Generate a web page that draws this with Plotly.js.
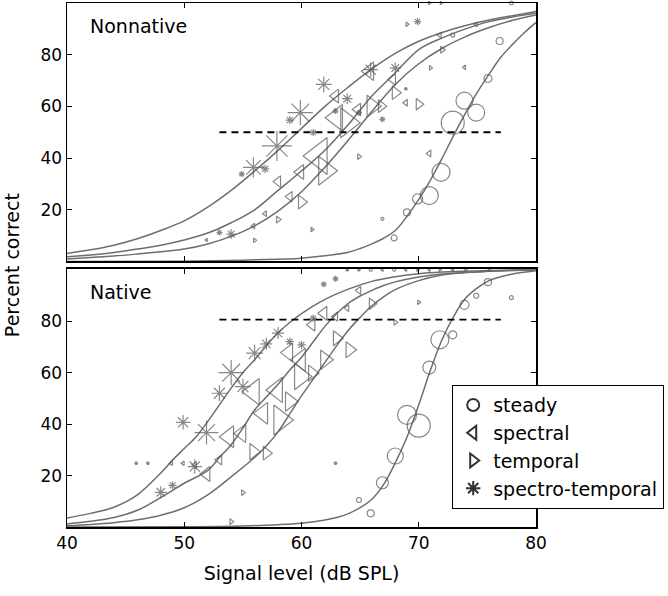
<!DOCTYPE html>
<html><head><meta charset="utf-8">
<script src="https://cdn.plot.ly/plotly-3.0.1.min.js"></script>
<style>html,body{margin:0;padding:0;background:#fff}#chart{width:668px;height:596px}</style>
</head><body><div id="chart"></div><script>
// ---------- Nonnative (top panel) data ----------
const nnSteadyX = [66.9, 67.9, 69.0, 69.9, 70.9, 71.9, 72.9, 73.9, 74.9, 75.9, 76.9, 77.9, 72.9];
const nnSteadyY = [16.5, 9.1, 19.0, 24.2, 25.5, 34.5, 53.7, 62.2, 57.6, 70.8, 85.3, 100, 87.6];
const nnSteadyS = [3, 6, 7, 10, 18, 18, 23, 17, 17, 8, 7, 4, 4];

const nnSpectralX = [51.9, 55.9, 56.9, 58.0, 59.0, 59.9, 61.5, 63.0, 62.9, 64.8, 65.8, 67.8, 68.9, 70.9, 71.8, 73.9, 74.9];
const nnSpectralY = [8.3, 13.7, 18.5, 30.9, 25.1, 34.6, 40.8, 55.6, 64.0, 58.8, 73.6, 70.4, 61.4, 41.8, 87.6, 75.1, 91.7];
const nnSpectralS = [3, 5, 5, 10, 9, 13, 32, 23, 12, 11, 16, 10, 6, 6, 5, 4, 4];

const nnTemporalX = [56.0, 58.0, 60.0, 60.9, 62.0, 63.9, 64.9, 66.0, 66.8, 68.0, 70.0, 72.0, 69.0, 71.0, 70.9, 71.9];
const nnTemporalY = [8.2, 16.2, 23.0, 12.4, 35.1, 53.7, 40.6, 60.1, 60.1, 65.3, 60.8, 81.9, 91.8, 74.9, 100, 100];
const nnTemporalS = [4, 6, 12, 4, 25, 26, 5, 19, 11, 12, 10, 6, 4, 4, 3, 3];

const nnSTX = [53.0, 54.0, 54.9, 55.9, 56.9, 57.9, 59.0, 59.9, 61.0, 61.9, 62.9, 63.9, 64.9, 65.9, 66.9, 68.0, 68.9, 69.9];
const nnSTY = [11.2, 10.6, 33.8, 36.4, 35.8, 44.7, 54.7, 57.6, 49.9, 68.5, 58.2, 63.0, 57.6, 74.2, 55.0, 74.9, 66.8, 92.8];
const nnSTS = [5, 8, 5, 17, 7, 25, 7, 21, 6, 13, 5, 9, 5, 12, 5, 9, 3, 6];

// fitted curves
const nnCurveSTX = [40, 42, 44, 46, 48, 50, 52, 54, 56, 58, 60, 62, 64, 66, 68, 70, 72, 74, 76, 78, 80];
const nnCurveSTY = [3.1, 4.5, 6.3, 8.8, 12, 15.7, 21, 27.5, 35, 43, 51.5, 60, 67.5, 74.5, 80.5, 85.2, 88.6, 91.3, 93.4, 95.1, 96.7];
const nnCurveSpX = [40, 42, 44, 46, 48, 50, 52, 54, 56, 58, 60, 62, 64, 66, 68, 70, 72, 74, 76, 78, 80];
const nnCurveSpY = [1.8, 2.5, 3.5, 4.8, 6.3, 8.3, 11, 15, 20, 27.5, 35, 43, 53, 64, 73, 82, 86.5, 90, 92.8, 94.6, 96];
const nnCurveTeX = [40, 42, 44, 46, 48, 50, 52, 54, 56, 58, 60, 62, 64, 66, 68, 70, 72, 74, 76, 78, 80];
const nnCurveTeY = [1, 1.5, 2.1, 2.9, 3.8, 4.8, 6.8, 9.7, 13.8, 19.5, 27, 36.5, 47, 58, 68.5, 76.5, 82.5, 87, 90.5, 93.3, 95.4];
const nnCurveStX = [40, 50, 55, 58, 60, 62, 64, 65, 66, 67, 68, 69, 70, 71, 72, 73, 74, 75, 76, 77, 78, 79, 80];
const nnCurveStY = [0, 0.1, 0.5, 0.9, 1.3, 2.2, 3.6, 5, 6.8, 9, 12, 17.5, 24, 31.5, 40, 49, 57.5, 65.5, 72.5, 79, 84, 88.5, 92.5];

const nnRefX = [53, 77];
const nnRefY = [50, 50];

// ---------- Native (bottom panel) data ----------
const nSteadyX = [64.9, 65.9, 66.9, 68.0, 69.0, 70.0, 70.9, 71.8, 72.9, 73.9, 74.9, 75.9, 77.9, 65.9, 67.9];
const nSteadyY = [10.5, 5.3, 17.2, 27.6, 43.6, 39.4, 62.0, 72.8, 74.7, 86.4, 89.9, 95.2, 89.2, 100, 100];
const nSteadyS = [5, 7, 12, 16, 19, 23, 13, 18, 8, 9, 5, 7, 4, 3, 3];

const nSpectralX = [48.9, 49.9, 50.9, 51.9, 53.0, 53.8, 54.9, 55.9, 56.7, 57.9, 58.9, 59.9, 60.9, 61.9, 62.9, 63.9, 64.9, 66.9, 68.9, 70.9, 72.9];
const nSpectralY = [24.8, 24.8, 24.1, 20.6, 26.1, 35.1, 36.4, 52.6, 44.2, 53.3, 67.8, 65.0, 78.6, 83.1, 81.8, 85.1, 92.0, 100, 100, 100, 100];
const nSpectralS = [4, 4, 6, 13, 9, 19, 16, 23, 19, 22, 16, 20, 11, 12, 8, 6, 7, 3, 3, 3, 3];

const nTemporalX = [54.0, 55.0, 55.9, 57.0, 58.2, 59.0, 59.9, 60.9, 62.0, 63.0, 64.1, 66.0, 68.0, 70.0, 69.9, 71.8, 74.0, 76.0];
const nTemporalY = [2.1, 13.4, 29.3, 28.7, 41.6, 48.8, 58.5, 59.8, 65.0, 73.4, 68.9, 86.8, 79.6, 87.4, 100, 100, 100, 100];
const nTemporalS = [5, 5, 14, 12, 26, 17, 23, 14, 17, 13, 14, 10, 5, 4, 3, 3, 3, 3];

const nSTX = [45.9, 46.9, 48.0, 49.0, 49.9, 50.9, 51.9, 53.0, 54.0, 55.0, 56.0, 57.0, 58.0, 59.0, 60.0, 61.0, 61.9, 62.9, 62.9, 63.9, 64.9];
const nSTY = [24.8, 24.8, 13.5, 16.2, 40.7, 23.5, 36.7, 52.0, 60.0, 54.6, 67.6, 71.2, 75.4, 72.1, 70.8, 81.2, 94.4, 96.5, 24.8, 100, 100];
const nSTS = [3, 3, 10, 7, 12, 12, 20, 13, 21, 13, 14, 10, 10, 7, 7, 6, 5, 5, 3, 3, 3];

const nCurveSTX = [40, 42, 44, 46, 48, 49, 50, 51, 52, 53, 54, 55, 56, 57, 58, 59, 60, 62, 64, 66, 68, 70, 72, 76, 80];
const nCurveSTY = [3.5, 5.3, 7.7, 12.5, 21, 26, 30.5, 35, 41, 47.5, 54, 60, 65, 70.5, 75.5, 79.5, 83, 88.5, 92.5, 95.5, 97.3, 98.5, 99.1, 99.7, 100];
const nCurveSpX = [40, 42, 44, 46, 48, 50, 52, 53, 54, 55, 56, 57, 58, 59, 60, 61, 62, 63, 64, 65, 66, 67, 68, 70, 72, 76, 80];
const nCurveSpY = [1.2, 2.2, 3.7, 6.5, 11.5, 17, 22, 27, 32, 38.5, 45.5, 50.5, 55.5, 61, 66, 72, 78, 83, 87, 89.8, 92, 93.9, 95.3, 97.2, 98.4, 99.4, 100];
const nCurveTeX = [40, 42, 44, 46, 48, 50, 52, 54, 56, 57, 58, 59, 60, 61, 62, 63, 64, 65, 66, 67, 68, 70, 72, 76, 80];
const nCurveTeY = [0.5, 1, 1.7, 2.8, 4.6, 7.5, 12.5, 19.5, 27, 31.5, 37, 44, 51, 57.5, 64, 70.5, 76.5, 81.5, 86, 89.5, 92.3, 95.8, 98, 99.5, 100];
const nCurveStX = [40, 50, 55, 58, 60, 62, 63, 64, 65, 66, 67, 68, 69, 70, 71, 72, 73, 74, 75, 76, 77, 78, 80];
const nCurveStY = [0, 0.1, 0.4, 0.9, 1.5, 2.7, 3.7, 5.2, 7.5, 10.8, 16.5, 25, 35, 47.5, 61, 73, 82, 89, 93, 95.8, 97.3, 98.4, 99.6];

const nRefX = [53, 77];
const nRefY = [80.6, 80.6];

const legendNames = ['steady', 'spectral', 'temporal', 'spectro-temporal'];
const legendSymbols = ['circle-open', 'triangle-left-open', 'triangle-right-open', 'asterisk-open'];

// ---------- styling ----------
const FONT = 'DejaVu Sans, Verdana, sans-serif';
const MC = '#555555';
const CC = '#6e6e6e';

function pts(x, y, s, sym, xa, ya) {
  return {x: x, y: y, xaxis: xa, yaxis: ya, type: 'scatter', mode: 'markers', showlegend: false,
    hoverinfo: 'skip', cliponaxis: false,
    marker: {symbol: sym, size: s, color: MC, line: {color: MC, width: 1.2}}};
}
function crv(x, y, xa, ya) {
  return {x: x, y: y, xaxis: xa, yaxis: ya, type: 'scatter', mode: 'lines', showlegend: false,
    hoverinfo: 'skip', line: {color: CC, width: 1.5, shape: 'spline', smoothing: 1}};
}
function ref(x, y, xa, ya) {
  return {x: x, y: y, xaxis: xa, yaxis: ya, type: 'scatter', mode: 'lines', showlegend: false,
    hoverinfo: 'skip', line: {color: '#000', width: 1.8, dash: '7px,5px'}};
}

const traces = [
  crv(nnCurveSTX, nnCurveSTY, 'x', 'y'), crv(nnCurveSpX, nnCurveSpY, 'x', 'y'),
  crv(nnCurveTeX, nnCurveTeY, 'x', 'y'), crv(nnCurveStX, nnCurveStY, 'x', 'y'),
  crv(nCurveSTX, nCurveSTY, 'x2', 'y2'), crv(nCurveSpX, nCurveSpY, 'x2', 'y2'),
  crv(nCurveTeX, nCurveTeY, 'x2', 'y2'), crv(nCurveStX, nCurveStY, 'x2', 'y2'),
  ref(nnRefX, nnRefY, 'x', 'y'), ref(nRefX, nRefY, 'x2', 'y2'),
  pts(nnSteadyX, nnSteadyY, nnSteadyS, 'circle-open', 'x', 'y'),
  pts(nnSpectralX, nnSpectralY, nnSpectralS, 'triangle-left-open', 'x', 'y'),
  pts(nnTemporalX, nnTemporalY, nnTemporalS, 'triangle-right-open', 'x', 'y'),
  pts(nnSTX, nnSTY, nnSTS, 'asterisk-open', 'x', 'y'),
  pts(nSteadyX, nSteadyY, nSteadyS, 'circle-open', 'x2', 'y2'),
  pts(nSpectralX, nSpectralY, nSpectralS, 'triangle-left-open', 'x2', 'y2'),
  pts(nTemporalX, nTemporalY, nTemporalS, 'triangle-right-open', 'x2', 'y2'),
  pts(nSTX, nSTY, nSTS, 'asterisk-open', 'x2', 'y2')
];
legendNames.forEach(function (nm, i) {
  traces.push({x: [null], y: [null], xaxis: 'x2', yaxis: 'y2', type: 'scatter', mode: 'markers',
    name: nm, showlegend: true,
    marker: {symbol: legendSymbols[i], size: 15, color: '#333', line: {color: '#333', width: 1.2}}});
});

const xCommon = {range: [40, 80], tickvals: [40, 50, 60, 70, 80], ticks: 'inside', ticklen: 5,
  tickcolor: '#000', showline: true, linecolor: '#000', linewidth: 1.5, mirror: 'ticks',
  showgrid: false, zeroline: false, tickfont: {family: FONT, size: 17, color: '#000'}};
const yCommon = {tickvals: [20, 40, 60, 80], ticks: 'inside', ticklen: 5, tickcolor: '#000',
  showline: true, linecolor: '#000', linewidth: 1.5, mirror: 'ticks', showgrid: false,
  zeroline: false, tickfont: {family: FONT, size: 17, color: '#000'}};

const layout = {
  width: 668, height: 596,
  margin: {l: 67, r: 132, t: 3, b: 69},
  paper_bgcolor: '#fff', plot_bgcolor: '#fff',
  font: {family: FONT, color: '#000'},
  xaxis: Object.assign({}, xCommon, {anchor: 'y', showticklabels: false}),
  yaxis: Object.assign({}, yCommon, {anchor: 'x', domain: [0.5067, 1], range: [0, 100]}),
  xaxis2: Object.assign({}, xCommon, {anchor: 'y2',
    title: {text: 'Signal level (dB SPL)', font: {family: FONT, size: 19, color: '#000'}, standoff: 15}}),
  yaxis2: Object.assign({}, yCommon, {anchor: 'x2', domain: [0, 0.4933], range: [0, 100.5]}),
  showlegend: true,
  legend: {x: 0.8209, y: 0.271, xanchor: 'left', yanchor: 'top', bgcolor: '#fff',
    bordercolor: '#000', borderwidth: 1.2, font: {family: FONT, size: 19, color: '#000'},
    itemsizing: 'constant', tracegroupgap: 0},
  annotations: [
    {text: 'Nonnative', xref: 'paper', yref: 'paper', x: 0.0448, y: 0.956, xanchor: 'left',
      yanchor: 'middle', showarrow: false, font: {family: FONT, size: 19, color: '#000'}},
    {text: 'Native', xref: 'paper', yref: 'paper', x: 0.0448, y: 0.4494, xanchor: 'left',
      yanchor: 'middle', showarrow: false, font: {family: FONT, size: 19, color: '#000'}},
    {text: 'Percent correct', xref: 'paper', yref: 'paper', x: -0.117, y: 0.5, xanchor: 'center',
      yanchor: 'middle', textangle: -90, showarrow: false, font: {family: FONT, size: 19, color: '#000'}}
  ]
};

Plotly.newPlot('chart', traces, layout, {staticPlot: true, displayModeBar: false});
</script></body></html>
